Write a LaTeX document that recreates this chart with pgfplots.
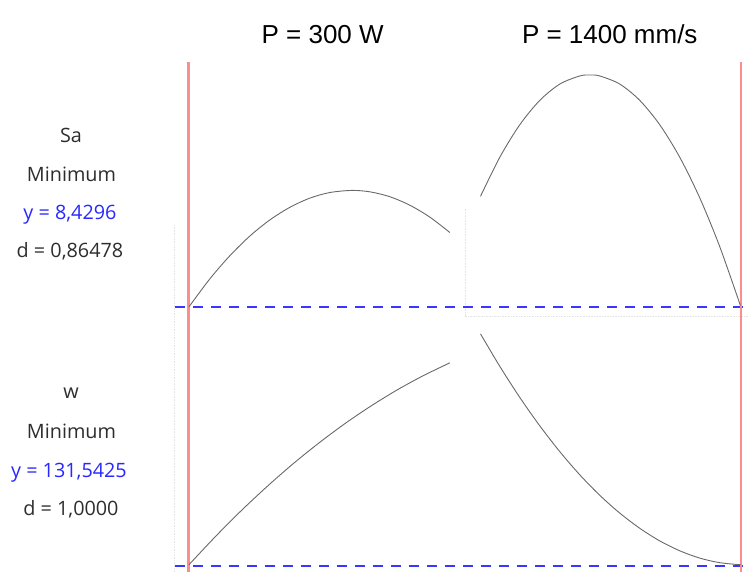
\documentclass[border=0pt]{standalone}
\usepackage{fontspec}
\setmainfont{Open Sans}
\newfontfamily\arialfont{Liberation Sans}
\usepackage{pgfplots}
\pgfplotsset{compat=1.18}
\definecolor{curvegray}{RGB}{105,105,105}
\definecolor{redline}{RGB}{255,140,140}
\definecolor{blueline}{RGB}{55,55,255}
\definecolor{txtgray}{RGB}{45,45,45}
\definecolor{txtblue}{RGB}{40,40,255}
\definecolor{dotgray}{RGB}{228,228,228}
\begin{document}
\begin{tikzpicture}
\begin{axis}[
  at={(0,0)}, anchor=south west,
  width=749bp, height=572bp, scale only axis,
  xmin=0, xmax=749, ymin=0, ymax=572,
  hide axis, clip=false,
]
% faint panel borders
\addplot[dotgray, densely dotted, line width=0.6bp] coordinates {(174,0) (174,347)};
\addplot[dotgray, densely dotted, line width=0.6bp] coordinates {(465,256) (465,363)};
\addplot[dotgray, densely dotted, line width=0.6bp] coordinates {(465,256) (749,256)};
% blue dashed lines (targets)
\addplot[blueline, line width=1.6bp, dash pattern=on 10.5bp off 7.5bp] coordinates {(175,265) (746,265)};
\addplot[blueline, line width=1.6bp, dash pattern=on 10.5bp off 7.5bp] coordinates {(175,6) (746,6)};
% red current setting lines
\addplot[redline, line width=2.2bp] coordinates {(188.5,0) (188.5,509.5)};
\addplot[redline, line width=2.2bp] coordinates {(741,0) (741,509.5)};
% Sa vs factor 1
\addplot[curvegray, line width=0.9bp, smooth] coordinates {
(189,265.0) (210,293.1) (230,316.2) (250,335.9) (270,352.0) (290,364.6) (310,373.8) (330,379.4) (352,381.5) (370,380.1) (390,375.2) (410,366.7) (430,354.8) (450,339.4)};
% Sa vs factor 2
\addplot[curvegray, line width=0.9bp, smooth] coordinates {
(480.7,375.6) (500,414.7) (520,447.2) (540,471.6) (560,487.9) (580,496.0) (590,497.0) (600,496.0) (620,487.9) (640,471.6) (660,447.2) (680,414.7) (700,374.1) (720,325.3) (740.7,266.3)};
% w vs factor 1
\addplot[curvegray, line width=0.9bp, smooth] coordinates {
(189,7.0) (215.1,34.8) (241.2,61.0) (267.3,85.4) (293.4,108.2) (319.5,129.2) (345.6,148.6) (371.7,166.2) (397.8,182.2) (423.9,196.4) (450,209.0)};
% w vs factor 2
\addplot[curvegray, line width=0.9bp, smooth] coordinates {
(480.7,238.0) (500,205.5) (520,174.4) (540,146.0) (560,120.2) (580,97.0) (600,76.5) (620,58.7) (640,43.5) (660,30.9) (680,21.0) (700,13.7) (720,9.1) (741,7.0)};
% titles
\node[anchor=base, font=\arialfont\fontsize{26bp}{30bp}\selectfont, text=black] at (axis cs:322.8,528.3) {P = 300 W};
\node[anchor=base, font=\arialfont\fontsize{26bp}{30bp}\selectfont, text=black] at (axis cs:610,528.3) {P = 1400 mm/s};
% row labels
\begin{scope}[every node/.style={anchor=base, font=\fontsize{19.8bp}{23bp}\selectfont, inner sep=0pt}]
\node[text=txtgray] at (axis cs:71,429) {Sa};
\node[text=txtgray] at (axis cs:71.5,390.5) {Minimum};
\node[text=txtblue] at (axis cs:70,352) {y = 8,4296};
\node[text=txtgray] at (axis cs:70,314) {d = 0,86478};
\node[text=txtgray] at (axis cs:71,173.7) {w};
\node[text=txtgray] at (axis cs:71.5,133.7) {Minimum};
\node[text=txtblue] at (axis cs:69,94.7) {y = 131,5425};
\node[text=txtgray] at (axis cs:71,56) {d = 1,0000};
\end{scope}
\end{axis}
\path (0,0) rectangle (749bp,572bp);
\end{tikzpicture}
\end{document}
